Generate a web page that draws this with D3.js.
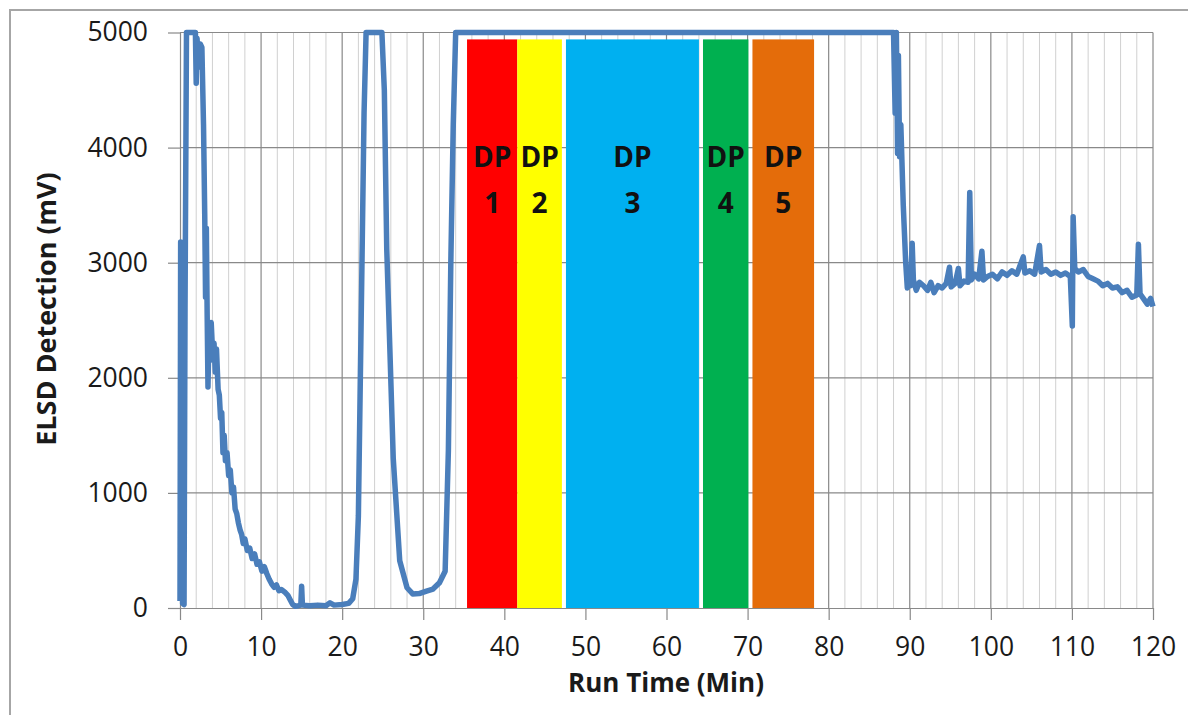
<!DOCTYPE html>
<html>
<head>
<meta charset="utf-8">
<script src="https://cdn.jsdelivr.net/npm/d3@7"></script>
<style>
  html, body { margin: 0; padding: 0; background: #fff; }
  svg { display: block; font-family: 'Open Sans', 'Liberation Sans', sans-serif; }
</style>
</head>
<body>
<div id="chart"></div>
<script>
// ELSD trace: [run time (min), detection (mV)]
const trace = [
  [0.0, 60], [0.08, 3180], [0.2, 3100], [0.32, 40], [0.5, 30], [0.62, 2600], [0.8, 5000],
  [1.9, 5000], [2.0, 4560], [2.1, 4950], [2.3, 4700], [2.5, 4900], [2.7, 4870],
  [2.9, 4200], [3.05, 3420], [3.15, 2700], [3.25, 3300], [3.35, 2550], [3.45, 1920],
  [3.55, 2300], [3.7, 2150], [3.85, 2480], [4.0, 2250], [4.2, 2300], [4.35, 2050],
  [4.5, 2250], [4.7, 1900], [4.85, 1850], [5.0, 1650], [5.15, 1700], [5.3, 1350],
  [5.45, 1500], [5.6, 1280], [5.8, 1350], [6.0, 1150], [6.2, 1200], [6.4, 1000],
  [6.6, 1050], [6.8, 860], [7.0, 820], [7.2, 740], [7.4, 680], [7.6, 640], [7.8, 560],
  [8.0, 600], [8.3, 500], [8.6, 520], [8.9, 430], [9.2, 470], [9.5, 380], [9.8, 400],
  [10.1, 320], [10.4, 360], [10.7, 300], [11.0, 250], [11.3, 210], [11.6, 180],
  [11.9, 200], [12.2, 150], [12.5, 160], [12.9, 140], [13.3, 110], [13.6, 70],
  [13.9, 30], [14.2, 15], [14.6, 20], [14.9, 25], [15.0, 190], [15.1, 25], [16.0, 20],
  [17.0, 25], [18.0, 20], [18.5, 45], [19.0, 25], [20.0, 30], [20.8, 40], [21.3, 80],
  [21.7, 250], [22.0, 800], [22.4, 2785], [22.7, 4300], [22.95, 5000], [24.9, 5000],
  [25.2, 4500], [25.5, 3116], [26.3, 1300], [27.1, 410], [28.0, 176], [28.7, 122],
  [29.5, 125], [30.3, 145], [31.2, 165], [32.0, 220], [32.7, 320], [33.1, 1370],
  [33.4, 3000], [33.7, 4200], [34.0, 5000],
  [88.0, 5000], [88.2, 4300], [88.35, 5000], [88.5, 3950], [88.6, 4800], [88.75, 3920],
  [88.9, 4200], [89.2, 3500], [89.5, 3000], [89.7, 2780], [89.9, 2900], [90.1, 2800],
  [90.3, 3170], [90.45, 2850], [90.8, 2760], [91.2, 2830], [91.7, 2800], [92.2, 2760],
  [92.6, 2830], [93.0, 2740], [93.5, 2800], [94.0, 2780], [94.5, 2820], [94.9, 2960],
  [95.1, 2790], [95.6, 2820], [96.0, 2950], [96.2, 2800], [96.7, 2840], [97.2, 2830],
  [97.4, 3610], [97.6, 2850], [98.0, 2900], [98.5, 2860], [98.9, 3100], [99.1, 2850],
  [99.6, 2880], [100.2, 2900], [100.8, 2860], [101.4, 2920], [102.0, 2890],
  [102.6, 2930], [103.2, 2900], [104.0, 3050], [104.2, 2910], [104.8, 2930],
  [105.4, 2900], [106.0, 3150], [106.2, 2920], [106.8, 2940], [107.4, 2900],
  [108.0, 2920], [108.6, 2890], [109.2, 2910], [109.8, 2880], [110.05, 2450],
  [110.15, 3400], [110.35, 2950], [110.8, 2920], [111.4, 2940], [112.0, 2880],
  [112.6, 2860], [113.2, 2840], [113.8, 2800], [114.4, 2820], [115.0, 2780],
  [115.6, 2790], [116.2, 2740], [116.8, 2760], [117.4, 2700], [118.0, 2720],
  [118.2, 3160], [118.4, 2730], [118.8, 2690], [119.3, 2640], [119.7, 2690], [120.0, 2620]
];

// Fraction windows (DP 1..5): start / end minute
const bandNames = ['1', '2', '3', '4', '5'];
const bandStart = [35.4, 41.6, 47.6, 64.5, 70.6];
const bandEnd   = [41.6, 47.1, 64.0, 70.1, 78.2];
const bandTop   = 4940;
const bandColors = ['#ff0000', '#ffff00', '#00b0f0', '#00b050', '#e46c0a'];

const xTicks = d3.range(0, 121, 10);
const xMinor = d3.range(0, 121, 2);
const yTicks = d3.range(0, 5001, 1000);

const W = 1188, H = 715;
const x = d3.scaleLinear().domain([0, 120]).range([180, 1153]);
const y = d3.scaleLinear().domain([0, 5000]).range([608, 32.5]);

const svg = d3.select('#chart').append('svg')
  .attr('width', W).attr('height', H);

svg.append('rect').attr('width', W).attr('height', H).attr('fill', '#fff');

// chart-area frame (only top/left edges fall inside the picture)
svg.append('path')
  .attr('d', `M10,${H + 5}V10H${W + 5}`)
  .attr('fill', 'none').attr('stroke', '#a6a6a6').attr('stroke-width', 2);

// minor verticals every 2 min
svg.append('g').selectAll('line')
  .data(xMinor.filter(d => d % 10 !== 0))
  .join('line')
  .attr('x1', d => x(d)).attr('x2', d => x(d))
  .attr('y1', y(0)).attr('y2', y(5000))
  .attr('stroke', '#d0d0d0').attr('stroke-width', 1);

// major grid
svg.append('g').selectAll('line')
  .data(xTicks.slice(1))
  .join('line')
  .attr('x1', d => x(d)).attr('x2', d => x(d))
  .attr('y1', y(0)).attr('y2', y(5000))
  .attr('stroke', '#898989').attr('stroke-width', 1.2);

svg.append('g').selectAll('line')
  .data(yTicks.slice(1))
  .join('line')
  .attr('x1', x(0)).attr('x2', x(120))
  .attr('y1', d => y(d)).attr('y2', d => y(d))
  .attr('stroke', '#898989').attr('stroke-width', 1.2);

// axes
const xAxis = svg.append('g')
  .attr('transform', `translate(0,${y(0)})`)
  .call(d3.axisBottom(x).tickValues(xTicks).tickSize(12).tickPadding(17).tickSizeOuter(0));

const yAxis = svg.append('g')
  .attr('transform', `translate(${x(0)},0)`)
  .call(d3.axisLeft(y).tickValues(yTicks).tickFormat(d3.format('d'))
    .tickSize(12).tickPadding(20).tickSizeOuter(0));

[xAxis, yAxis].forEach(g => {
  g.select('.domain').attr('stroke', '#898989').attr('stroke-width', 1.2);
  g.selectAll('.tick line').attr('stroke', '#898989').attr('stroke-width', 1.2);
  g.selectAll('.tick text')
    .attr('fill', '#1a1a1a')
    .style('font-family', "'Open Sans', sans-serif")
    .style('font-size', '26.5px');
});

// the trace
const line = d3.line().x(d => x(d[0])).y(d => y(d[1]));

svg.append('path')
  .datum(trace)
  .attr('d', line)
  .attr('fill', 'none')
  .attr('stroke', '#4a7ebb')
  .attr('stroke-width', 5.5)
  .attr('stroke-linejoin', 'round');

// fraction bands on top of the trace
const bands = svg.append('g').selectAll('g')
  .data(bandNames)
  .join('g');

bands.append('rect')
  .attr('x', (d, i) => x(bandStart[i]))
  .attr('width', (d, i) => x(bandEnd[i]) - x(bandStart[i]))
  .attr('y', y(bandTop))
  .attr('height', y(0) - y(bandTop))
  .attr('fill', (d, i) => bandColors[i]);

bands.append('text')
  .attr('x', (d, i) => (x(bandStart[i]) + x(bandEnd[i])) / 2)
  .attr('y', 167)
  .attr('text-anchor', 'middle')
  .style('font-size', '28px').style('font-weight', 700)
  .attr('fill', '#111')
  .text('DP');

bands.append('text')
  .attr('x', (d, i) => (x(bandStart[i]) + x(bandEnd[i])) / 2)
  .attr('y', 213)
  .attr('text-anchor', 'middle')
  .style('font-size', '28px').style('font-weight', 700)
  .attr('fill', '#111')
  .text(d => d);

// axis titles
svg.append('text')
  .attr('x', (x(0) + x(120)) / 2 - 0.5)
  .attr('y', 692)
  .attr('text-anchor', 'middle')
  .style('font-size', '26px').style('font-weight', 700)
  .attr('fill', '#1a1a1a')
  .text('Run Time (Min)');

svg.append('text')
  .attr('transform', 'translate(56,309) rotate(-90)')
  .attr('text-anchor', 'middle')
  .style('font-size', '27px').style('font-weight', 700)
  .attr('fill', '#1a1a1a')
  .text('ELSD Detection (mV)');
</script>
</body>
</html>
